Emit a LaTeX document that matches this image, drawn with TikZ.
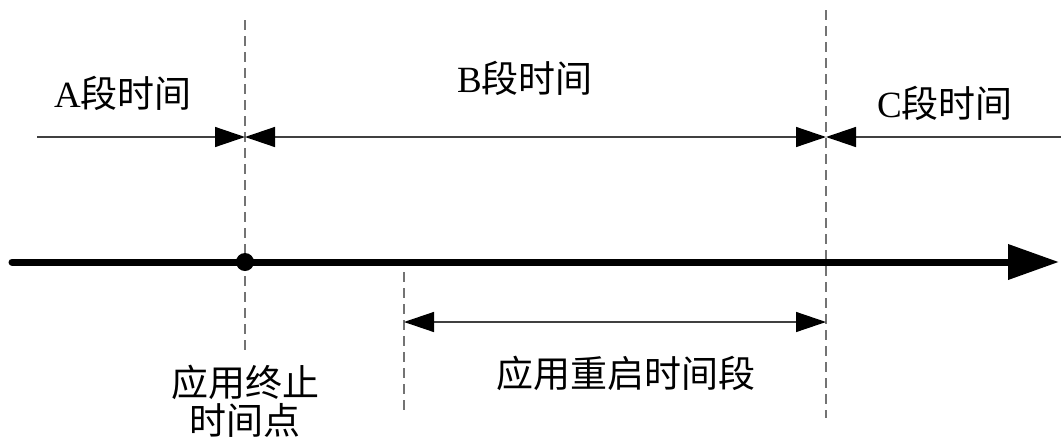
\documentclass[tikz,border=0pt]{standalone}
\usepackage{fontspec}
\setmainfont{Liberation Serif}
\newfontfamily\zhfont{Noto Sans CJK SC}
\usetikzlibrary{arrows.meta}
\begin{document}
\begin{tikzpicture}[x=1pt,y=-1pt,
  thinline/.style={line width=1.4pt,draw=black!75},
  guide/.style={line width=1.5pt,draw=black!55,dash pattern=on 10pt off 6pt},
  ktip/.tip={Triangle[length=30pt,width=20pt,color=black,fill=black]},
  lbl/.style={inner sep=0pt,font=\fontsize{37}{42}\selectfont,align=center}]
\useasboundingbox (0,0) rectangle (1061,445);
% guides
\coordinate (g1t) at (245,20);  \coordinate (g1b) at (245,352);
\coordinate (g2t) at (826,10);  \coordinate (g2b) at (826,418);
\coordinate (g3t) at (404,272); \coordinate (g3b) at (404,415);
\draw[guide] (g1t) -- (g1b);
\draw[guide] (g2t) -- (g2b);
\draw[guide] (g3t) -- (g3b);
% top segments
\coordinate (ta) at (37,137);
\coordinate (tb) at (245,137);
\coordinate (tc) at (826,137);
\coordinate (td) at (1061,137);
\draw[thinline,-{ktip}] (ta) -- (tb);
\draw[thinline,{ktip}-{ktip}] (tb) -- (tc);
\draw[thinline,-{ktip}] (td) -- (tc);
% main axis
\coordinate (ma) at (12,262);
\coordinate (mb) at (1059,262);
\draw[line width=7pt,line cap=round,-{Triangle[length=51pt,width=34pt]}] (ma) -- (mb);
\node[circle,fill=black,inner sep=0pt,minimum size=18pt] (dot) at (245,262) {};
% restart segment
\coordinate (ra) at (404,322);
\coordinate (rb) at (826,322);
\draw[thinline,{ktip}-{ktip}] (ra) -- (rb);
% labels
\node[lbl] (la) at (123,93) {A{\zhfont 段时间}};
\node[lbl] (lb) at (525,78) {B{\zhfont 段时间}};
\node[lbl] (lc) at (945,103) {C{\zhfont 段时间}};
\node[lbl] (lr) at (626,373) {\zhfont 应用重启时间段};
\node[lbl] (lt) at (245,401) {\zhfont 应用终止\\[-4pt]\zhfont 时间点};
\end{tikzpicture}
\end{document}
